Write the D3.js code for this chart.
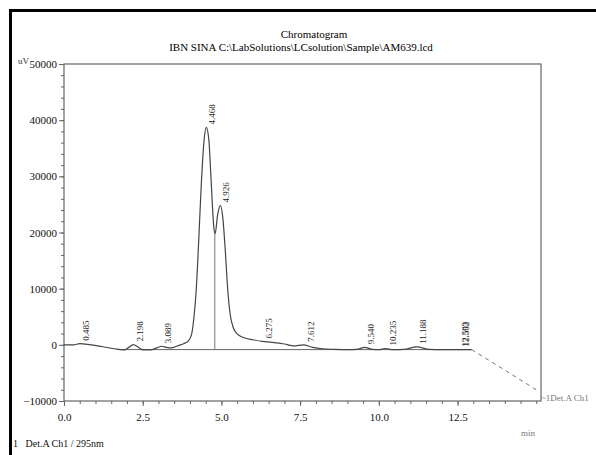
<!DOCTYPE html>
<html>
<head>
<meta charset="utf-8">
<script src="https://cdn.jsdelivr.net/npm/d3@7"></script>
<style>
  body { margin: 0; background: #fff; }
  svg { display: block; font-family: "Liberation Serif", "DejaVu Serif", serif; }
</style>
</head>
<body>
<svg id="chart" width="596" height="455"></svg>
<script>
// detector trace (min, uV)
const traceTime = [0.0, 0.3, 0.5, 0.8, 1.2, 1.6, 1.9, 2.05, 2.2, 2.35, 2.5, 2.75, 2.95, 3.1, 3.25, 3.4, 3.6, 3.8, 3.95, 4.05, 4.12, 4.2, 4.28, 4.36, 4.45, 4.52, 4.6, 4.68, 4.76, 4.8, 4.88, 4.97, 5.05, 5.12, 5.2, 5.28, 5.38, 5.5, 5.7, 6.0, 6.3, 6.6, 7.0, 7.3, 7.6, 7.9, 8.2, 8.6, 9.0, 9.3, 9.55, 9.8, 10.0, 10.2, 10.45, 10.8, 11.2, 11.6, 12.0, 12.5, 12.95]
const traceUV   = [0, 0, 200, 50, -300, -700, -900, -500, 50, -400, -900, -900, -550, -250, -450, -550, -200, 200, 700, 1800, 4500, 9800, 18700, 28500, 36500, 38700, 36500, 28500, 20800, 19800, 23200, 24800, 22300, 17000, 9800, 5350, 3000, 1950, 1300, 900, 600, 450, 150, -200, 0, -450, -700, -800, -850, -800, -450, -800, -850, -650, -850, -800, -350, -800, -850, -850, -850]

// integration baseline and the drop line between the two main peaks
const baseTime = [1.75, 12.95]
const baseUV = [-850, -850]
const dropTime = 4.79
const dropTopUV = 19800

// peak retention-time labels
const peakLabels = ["0.485", "2.198", "3.089", "4.468", "4.926", "6.275", "7.612", "9.540", "10.235", "11.188", "12.503", "12.552"]
const peakRT = [0.485, 2.198, 3.089, 4.468, 4.926, 6.275, 7.612, 9.540, 10.235, 11.188, 12.503, 12.552]
const peakTopUV = [200, 50, -250, 38700, 24800, 600, 0, -450, -650, -350, -850, -850]

const yTicks = [-10000, 0, 10000, 20000, 30000, 40000, 50000]
const xTicks = [0, 2.5, 5, 7.5, 10, 12.5]

const svg = d3.select("#chart")
const margin = { left: 64, right: 55, top: 64, bottom: 54 }
const W = 596, H = 455

const x = d3.scaleLinear().domain([0, 15.15]).range([margin.left, W - margin.right])
const y = d3.scaleLinear().domain([-10000, 50000]).range([H - margin.bottom, margin.top])

// scan frame (left and top edges)
svg.append("path")
    .attr("d", "M10.5,455 L10.5,10.5 L596,10.5")
    .attr("fill", "none")
    .attr("stroke", "#000")
    .attr("stroke-width", 3)

// title
svg.append("text")
    .attr("x", 314).attr("y", 38)
    .attr("text-anchor", "middle")
    .attr("font-size", 11).attr("fill", "#000")
    .text("Chromatogram")
svg.append("text")
    .attr("x", 301).attr("y", 51)
    .attr("text-anchor", "middle")
    .attr("font-size", 11).attr("fill", "#000")
    .text("IBN SINA C:\\LabSolutions\\LCsolution\\Sample\\AM639.lcd")

// plot box
svg.append("rect")
    .attr("x", x(0)).attr("y", y(50000))
    .attr("width", x(15.15) - x(0))
    .attr("height", y(-10000) - y(50000))
    .attr("fill", "none")
    .attr("stroke", "#666")
    .attr("stroke-width", 1.2)

// y axis
const yAxis = svg.append("g").attr("transform", "translate(" + x(0) + ",0)")
yAxis.call(d3.axisLeft(y).tickValues(d3.range(-10000, 50001, 2000)).tickSize(3).tickFormat(""))
yAxis.call(g => g.select(".domain").remove())
const yMajor = svg.append("g").attr("transform", "translate(" + x(0) + ",0)")
yMajor.call(d3.axisLeft(y).tickValues(yTicks).tickSize(5).tickPadding(2).tickFormat(d3.format("d")))
yMajor.call(g => g.select(".domain").remove())
svg.selectAll(".tick line").attr("stroke", "#666")
yMajor.selectAll("text")
    .attr("font-size", 11)
    .attr("font-family", "Liberation Serif")
    .attr("fill", "#111")

svg.append("text")
    .attr("x", 18).attr("y", 64)
    .attr("font-size", 9).attr("fill", "#333")
    .text("uV")

// x axis
const xMinor = svg.append("g").attr("transform", "translate(0," + y(-10000) + ")")
xMinor.call(d3.axisBottom(x).tickValues(d3.range(0, 15.01, 0.5)).tickSize(3).tickFormat(""))
xMinor.call(g => g.select(".domain").remove())
const xMajor = svg.append("g").attr("transform", "translate(0," + y(-10000) + ")")
xMajor.call(d3.axisBottom(x).tickValues(xTicks).tickSize(5).tickPadding(7).tickFormat(d3.format(".1f")))
xMajor.call(g => g.select(".domain").remove())
svg.selectAll(".tick line").attr("stroke", "#666")
xMajor.selectAll("text")
    .attr("font-size", 11)
    .attr("font-family", "Liberation Serif")
    .attr("fill", "#111")

svg.append("text")
    .attr("x", 521).attr("y", 436)
    .attr("font-size", 9).attr("fill", "#777")
    .text("min")

svg.append("text")
    .attr("x", 13).attr("y", 447)
    .attr("font-size", 10).attr("fill", "#111")
    .attr("xml:space", "preserve")
    .text("1   Det.A Ch1 / 295nm")

// integration baseline + drop line
svg.append("line")
    .attr("x1", x(baseTime[0])).attr("y1", y(baseUV[0]))
    .attr("x2", x(baseTime[1])).attr("y2", y(baseUV[1]))
    .attr("stroke", "#666").attr("stroke-width", 1)
svg.append("line")
    .attr("x1", x(dropTime)).attr("y1", y(baseUV[0]))
    .attr("x2", x(dropTime)).attr("y2", y(dropTopUV))
    .attr("stroke", "#777").attr("stroke-width", 1)

// trace
const pts = traceTime.map((t, i) => [t, traceUV[i]])
const line = d3.line()
    .x(d => x(d[0]))
    .y(d => y(d[1]))
    .curve(d3.curveMonotoneX)
svg.append("path")
    .datum(pts)
    .attr("d", line)
    .attr("fill", "none")
    .attr("stroke", "#444")
    .attr("stroke-width", 1.2)

// dashed run-off to the channel label
svg.append("line")
    .attr("x1", x(12.95)).attr("y1", y(-850))
    .attr("x2", x(15.0)).attr("y2", y(-8000))
    .attr("stroke", "#777")
    .attr("stroke-width", 1)
    .attr("stroke-dasharray", "4,4")

svg.append("text")
    .attr("x", 541).attr("y", 401)
    .attr("font-size", 9).attr("fill", "#777")
    .text("~1Det.A Ch1")

// peak labels, rotated
svg.append("g")
    .selectAll("text")
    .data(peakLabels)
    .enter()
    .append("text")
    .attr("transform", (d, i) => "translate(" + (x(peakRT[i]) + 10) + "," + (y(peakTopUV[i]) - 3) + ")rotate(-90)")
    .attr("font-size", 9)
    .attr("fill", "#222")
    .text(d => d)
</script>
</body>
</html>
